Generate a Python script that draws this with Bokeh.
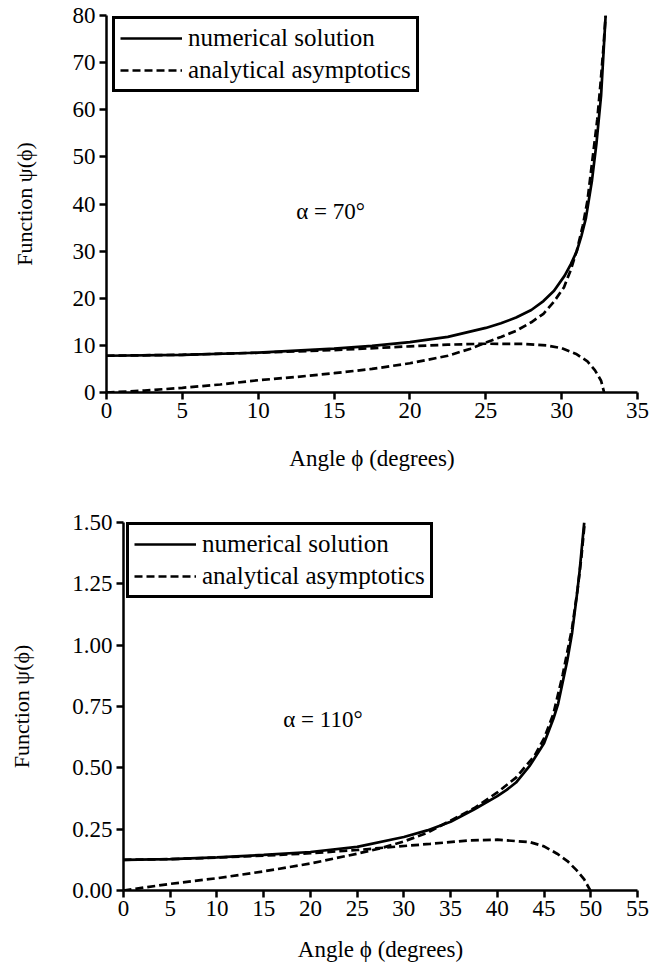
from bokeh.plotting import figure
from bokeh.models import Legend, LegendItem, Label, FixedTicker, NumeralTickFormatter, Range1d
from bokeh.embed import file_html
from bokeh.resources import INLINE

FONT = "serif"

# ---------------- alpha = 70 deg ----------------
top_num_x = [0, 5, 10, 15, 17.5, 20, 22.5, 25, 26, 27, 28, 28.8, 29.5, 30.2, 30.6, 31.0, 31.3, 31.6,
             32.0, 32.3, 32.6, 32.9]
top_num_y = [7.8, 8.0, 8.45, 9.3, 9.9, 10.7, 11.8, 13.7, 14.7, 15.9, 17.5, 19.4, 21.6, 24.8, 27.2,
             30.0, 33.2, 37.0, 45.0, 53.0, 63.0, 80.0]

top_inner_x = [0, 5, 10, 15, 20, 22.5, 25, 27.5, 29, 30, 31, 31.7, 32.2, 32.6, 32.8]
top_inner_y = [7.8, 8.0, 8.45, 9.0, 9.8, 10.15, 10.35, 10.3, 10.0, 9.4, 8.1, 6.6, 4.7, 2.5, 0.0]

top_outer_x = [0, 2.5, 5, 7.5, 10, 12.5, 15, 17.5, 20, 22.5, 24, 25, 26, 27, 28, 28.8, 29.5, 30.15,
               30.6, 31.0, 31.4, 31.7, 32.1, 32.35, 32.56, 32.75, 32.9]
top_outer_y = [0, 0.4, 1.0, 1.7, 2.6, 3.3, 4.1, 5.0, 6.2, 7.8, 9.3, 10.6, 11.8, 13.1, 14.9, 16.7, 19.3, 22.3,
               26.0, 30.1, 35.5, 40.7, 51.3, 58.0, 65.5, 73.0, 80.0]

top_xticks = [0, 5, 10, 15, 20, 25, 30, 35]
top_yticks = [0, 10, 20, 30, 40, 50, 60, 70, 80]

# ---------------- alpha = 110 deg ----------------
bot_num_x = [0, 5, 10, 15, 20, 25, 30, 32.5, 35, 37.5, 40, 41, 42, 43.5, 44, 45, 46, 46.5, 47, 47.5,
             48, 48.5, 48.8, 49, 49.3]
bot_num_y = [0.125, 0.128, 0.135, 0.145, 0.157, 0.178, 0.218, 0.245, 0.28, 0.33, 0.385, 0.41, 0.44,
             0.51, 0.54, 0.60, 0.70, 0.76, 0.85, 0.94, 1.05, 1.2, 1.3, 1.38, 1.5]

bot_inner_x = [0, 5, 10, 15, 20, 25, 29.25, 32.8, 37, 40, 43.5, 45, 46.4, 47.5, 48.5, 49.3, 49.95]
bot_inner_y = [0.125, 0.128, 0.134, 0.142, 0.152, 0.165, 0.179, 0.19, 0.204, 0.207, 0.197, 0.18,
               0.15, 0.12, 0.082, 0.045, 0.0]

bot_outer_x = [0, 5, 10, 15, 20, 25, 27.5, 30, 32.5, 35, 37.5, 40, 42, 44, 45, 46, 47, 48, 48.6, 49.0, 49.35]
bot_outer_y = [0, 0.027, 0.05, 0.078, 0.11, 0.15, 0.172, 0.2, 0.235, 0.285, 0.335, 0.40, 0.46, 0.55,
               0.62, 0.72, 0.88, 1.07, 1.23, 1.36, 1.5]

bot_xticks = [0, 5, 10, 15, 20, 25, 30, 35, 40, 45, 50, 55]
bot_yticks = [0, 0.25, 0.5, 0.75, 1.0, 1.25, 1.5]

LW = 2.7
DASH = "8 4"
W = 665


def make_fig(xr, yr, xticks, yticks, h, bl, bt, bb, num, inner, outer, ann, ann_xy,
             leg_xy, ylab_standoff, xlab_standoff, yfmt=None):
    p = figure(width=W, height=h, output_backend="svg", toolbar_location=None,
               x_range=Range1d(*xr), y_range=Range1d(*yr),
               min_border_left=bl, min_border_right=W - 637, min_border_top=bt,
               min_border_bottom=bb)
    p.outline_line_color = None
    p.xgrid.visible = False
    p.ygrid.visible = False
    p.background_fill_color = "white"
    p.border_fill_color = "white"

    r_num = p.line(num[0], num[1], line_color="black", line_width=LW)
    r_in = p.line(inner[0], inner[1], line_color="black", line_width=LW, line_dash=DASH)
    p.line(outer[0], outer[1], line_color="black", line_width=LW, line_dash=DASH)

    for ax in (p.xaxis[0], p.yaxis[0]):
        ax.axis_line_width = 2.5
        ax.axis_line_color = "black"
        ax.major_tick_line_width = 2.5
        ax.major_tick_line_color = "black"
        ax.major_tick_out = 7
        ax.major_tick_in = 0
        ax.minor_tick_out = 0
        ax.minor_tick_in = 0
        ax.major_label_text_font = FONT
        ax.major_label_text_font_size = "23px"
        ax.major_label_text_color = "black"
        ax.axis_label_text_font = FONT
        ax.axis_label_text_font_style = "normal"
        ax.axis_label_text_color = "black"

    p.xaxis.ticker = FixedTicker(ticks=xticks)
    p.yaxis.ticker = FixedTicker(ticks=yticks)
    if yfmt:
        p.yaxis.formatter = NumeralTickFormatter(format=yfmt)
    p.xaxis.major_label_standoff = 3
    p.yaxis.major_label_standoff = 4
    p.xaxis.axis_label = "Angle \u03d5 (degrees)"
    p.xaxis.axis_label_text_font_size = "23px"
    p.xaxis.axis_label_standoff = xlab_standoff
    p.yaxis.axis_label = "Function \u03c8(\u03d5)"
    p.yaxis.axis_label_text_font_size = "22px"
    p.yaxis.axis_label_standoff = ylab_standoff

    legend = Legend(items=[LegendItem(label="numerical solution", renderers=[r_num]),
                           LegendItem(label="analytical asymptotics", renderers=[r_in])],
                    location=leg_xy, margin=0, padding=5, spacing=4,
                    glyph_width=62, glyph_height=28, label_height=28, label_standoff=6,
                    label_text_font=FONT, label_text_font_size="25px", label_text_color="black",
                    border_line_color="black", border_line_width=3, border_line_alpha=1.0,
                    background_fill_color="white", background_fill_alpha=1.0)
    p.add_layout(legend, "center")

    lab = Label(x=ann_xy[0], y=ann_xy[1], text=ann, text_font=FONT, text_font_size="23px",
                text_color="black", text_baseline="alphabetic", text_align="left")
    p.add_layout(lab)
    return p


p1 = make_fig((0, 35), (0, 80), top_xticks, top_yticks, 480, 106, 15, 88,
              (top_num_x, top_num_y), (top_inner_x, top_inner_y), (top_outer_x, top_outer_y),
              "\u03b1 = 70\u00b0", (12.5, 38.4), (6, 300), 33, 25)
p2 = make_fig((0, 55), (0, 1.5), bot_xticks, bot_yticks, 490, 123, 42, 80,
              (bot_num_x, bot_num_y), (bot_inner_x, bot_inner_y), (bot_outer_x, bot_outer_y),
              "\u03b1 = 110\u00b0", (17.1, 0.695), (3, 292), 35, 18, yfmt="0.00")

open("out.html", "w").write(file_html([p1, p2], INLINE))
